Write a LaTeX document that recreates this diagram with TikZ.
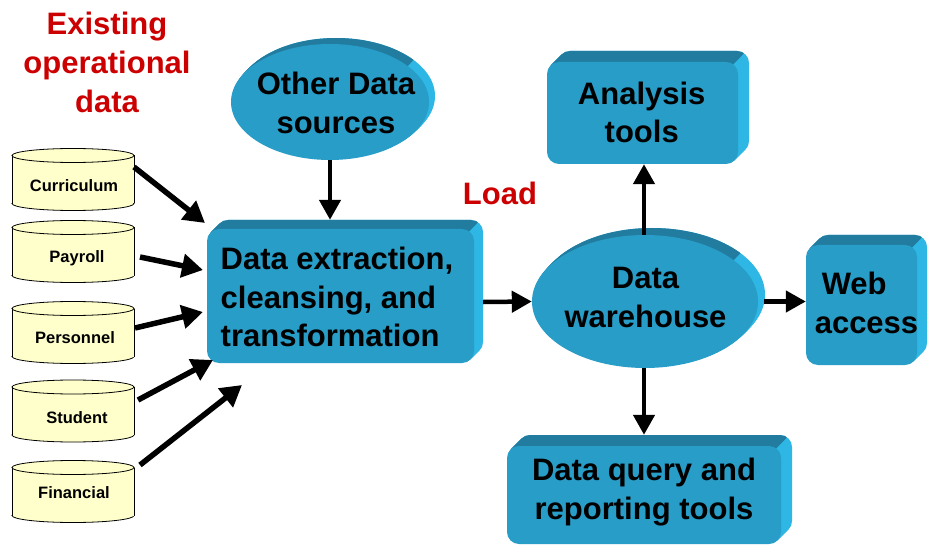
\documentclass[tikz,border=0pt]{standalone}
\usepackage{fontspec}
\setmainfont{Liberation Sans}
\usetikzlibrary{arrows.meta,shapes.geometric,calc}
\definecolor{boxfront}{RGB}{40,157,199}
\definecolor{boxtop}{RGB}{34,124,160}
\definecolor{boxside}{RGB}{46,182,228}
\definecolor{cylfill}{RGB}{255,255,204}
\definecolor{titlered}{RGB}{204,0,0}
\tikzset{
  frontbox/.style={rectangle, rounded corners=12pt, fill=boxfront, inner sep=0pt},
  frontell/.style={ellipse, fill=boxfront, inner sep=0pt},
  btext/.style={inner sep=0pt, align=center, font=\bfseries\fontsize{31}{38.5}\selectfont},
  ctext/.style={inner sep=0pt, anchor=base, font=\bfseries\fontsize{16.5}{19}\selectfont},
  redtext/.style={inner sep=0pt, align=center, text=titlered, font=\bfseries\fontsize{31}{39}\selectfont},
  arr/.style={line width=5.5pt, -{Triangle[length=21pt,width=23pt]}},
  arrb/.style={line width=4.5pt, -{Triangle[length=20pt,width=21pt]}},
  cylline/.style={line width=0.8pt, draw=black}
}
% 3D box: name, x1, y1, x2, y2, depth
\newcommand{\tdbox}[6]{%
  \foreach \i in {1,...,#6}{
    \fill[boxside, rounded corners=12pt] ({#2+\i},{#3-\i}) rectangle ({#4+\i},{#5-\i});
  }
  \begin{scope}
    \clip ({#2-20},{#3+16}) -- ({#2-20},{#3-40}) -- ({#4+37},{#3-40}) -- ({#4-19},{#3+16}) -- cycle;
    \foreach \i in {1,...,#6}{
      \fill[boxtop, rounded corners=12pt] ({#2+\i},{#3-\i}) rectangle ({#4+\i},{#5-\i});
    }
  \end{scope}
  \node[frontbox, minimum width={#4-#2}, minimum height={#5-#3}] (#1) at ({(#2+#4)/2},{(#3+#5)/2}) {};
}
% 3D ellipse: name, cx, cy, rx, ry, depth
\newcommand{\tdell}[6]{%
  \foreach \i in {1,...,#6}{
    \fill[boxside] ({#2+\i},{#3-\i}) ellipse [x radius=#4, y radius=#5];
  }
  \begin{scope}
    \pgfmathsetmacro{\cc}{#2+0.78*#4+#3-0.62*#5}
    \clip ({#2-#4-30},{#3-#5-30}) -- ({\cc-(#3-#5-30)},{#3-#5-30}) -- ({\cc-(#3+#5+30)},{#3+#5+30}) -- ({#2-#4-30},{#3+#5+30}) -- cycle;
    \foreach \i in {1,...,#6}{
      \fill[boxtop] ({#2+\i},{#3-\i}) ellipse [x radius=#4, y radius=#5];
    }
  \end{scope}
  \node[frontell, minimum width={2*#4}, minimum height={2*#5}] (#1) at (#2,#3) {};
}
% cylinder: cy
\newcommand{\dbcyl}[1]{%
  \fill[cylfill] (73,{#1+24}) ellipse [x radius=61, y radius=7];
  \draw[cylline] (73,{#1+24}) ellipse [x radius=61, y radius=7];
  \fill[cylfill] (12,{#1-24}) rectangle (134,{#1+24});
  \draw[cylline] (12,{#1-24}) -- (12,{#1+24});
  \draw[cylline] (134,{#1-24}) -- (134,{#1+24});
  \fill[cylfill] (73,{#1-24}) ellipse [x radius=61, y radius=7];
  \draw[cylline] (73,{#1-24}) ellipse [x radius=61, y radius=7];
}
\begin{document}
\begin{tikzpicture}[x=1pt,y=-1pt]
\useasboundingbox (0,0) rectangle (928,545);
\fill[white] (0,0) rectangle (928,545);

% title and Load
\node[redtext] (title) at (107,62.7) {Existing\\operational\\data};
\node[redtext, anchor=base] (load) at (500,205) {Load};

% cylinders
\dbcyl{179.5}
\dbcyl{251.5}
\dbcyl{332.5}
\dbcyl{411}
\dbcyl{491.5}
\node[ctext] (cur) at (74,192) {Curriculum};
\node[ctext] (pay) at (77,262) {Payroll};
\node[ctext] (per) at (75,343) {Personnel};
\node[ctext] (stu) at (77,423) {Student};
\node[ctext] (fin) at (74,498) {Financial};

% boxes
\tdbox{main}{207}{229}{474}{363}{9}
\tdbox{an}{547}{62}{738}{164}{11}
\tdbox{q}{507}{446}{781}{544}{11}
\tdbox{web}{806}{245}{917}{365}{10}

% ellipses
\tdell{other}{330}{102}{99}{58}{6}
\tdell{wh}{645}{301.5}{113}{66.5}{7}

% texts
\node[btext, align=left] (mtext) at (337,297.2) {Data extraction,\\cleansing, and\\transformation};
\node[btext] (otext) at (336,102.7) {Other Data\\sources};
\node[btext] (whtext) at (645.5,297.7) {Data\\warehouse};
\node[btext] (antext) at (641.7,112.2) {Analysis\\tools};
\node[btext] (qtext) at (644,492) {Data query and\\reporting tools};
\node[btext, align=left] (webtext) at (866.5,302.7) {\hspace{7pt}Web\\access};

% source arrows
\coordinate (s1) at (134,167); \coordinate (e1) at (205,223);
\coordinate (s2) at (140,257); \coordinate (e2) at (203,270);
\coordinate (s3) at (135,328); \coordinate (e3) at (203,312);
\coordinate (s4) at (138,400); \coordinate (e4) at (213,360);
\coordinate (s5) at (140,465); \coordinate (e5) at (242,385);
\draw[arr] (s1) -- (e1);
\draw[arr] (s2) -- (e2);
\draw[arr] (s3) -- (e3);
\draw[arr] (s4) -- (e4);
\draw[arr] (s5) -- (e5);

% other arrows
\draw[arrb] (other.south) -- ($(other.south |- main.north)+(0,-9)$);
\draw[arrb] ($(main.east)+(9,6)$) -- (wh.west);
\draw[arrb] ([xshift=-1pt]wh.north) -- ([xshift=-1pt]wh.north |- an.south);
\draw[arrb] ([xshift=-1pt]wh.south) -- ($([xshift=-1pt]wh.south |- q.north)+(0,-11)$);
\draw[arrb] ($(wh.east)+(6,0)$) -- (wh.east -| web.west);
\end{tikzpicture}
\end{document}
